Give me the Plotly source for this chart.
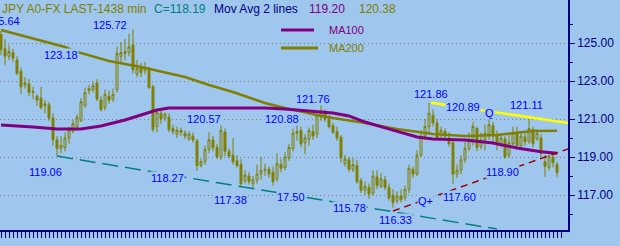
import plotly.graph_objects as go

# ---------------- data ----------------
open_ = [125.45, 124.7, 124.3, 124.5, 124.1, 123.5, 122.9, 122.85, 122.4, 122.2,
         122.1, 121.8, 121.75, 121.05, 119.9, 119.45, 119.5, 120.0, 120.35, 120.6,
         120.9, 121.7, 122.5, 122.55, 122.9, 122.0, 121.6, 122.2, 122.05, 122.55,
         124.3, 124.45, 124.5, 124.9, 123.35, 123.7, 123.55, 123.55, 122.7, 120.6,
         121.3, 121.05, 121.1, 120.5, 120.2, 120.4, 120.25, 119.95, 120.1, 119.85,
         118.55, 118.75, 119.4, 119.9, 119.5, 119.0, 120.3, 119.3, 119.1, 118.8,
         118.6, 117.75, 118.0, 117.6, 117.8, 118.1, 118.3, 118.35, 118.2, 117.85,
         118.6, 118.45, 118.95, 119.45, 120.25, 120.4, 119.75, 119.95, 120.35, 120.2,
         121.1, 121.3, 121.0, 120.65, 120.35, 120.05, 118.65, 118.85, 118.35, 118.55,
         117.75, 117.25, 117.4, 117.1, 117.95, 117.45, 117.8, 117.4, 117.0, 116.7,
         116.95, 116.85, 117.3, 118.35, 118.1, 119.1, 120.1, 120.6, 121.2, 120.8,
         120.15, 120.35, 120.0, 119.75, 118.1, 118.3, 118.85, 119.45, 119.85, 120.5,
         119.55, 119.9, 120.2, 120.65, 120.15, 119.7, 119.95, 119.1, 119.7, 120.3,
         119.6, 120.05, 119.8, 120.45, 119.95, 120.0, 118.75, 118.45, 119.0, 118.6]
high = [125.64, 125.2, 124.9, 124.7, 124.3, 123.7, 123.2, 123.1, 122.7, 122.3,
        122.7, 122.0, 121.9, 121.3, 120.1, 120.1, 120.3, 120.6, 120.95, 121.25,
        122.1, 122.65, 122.8, 123.0, 123.1, 122.2, 122.55, 122.5, 122.6, 124.8,
        125.05, 125.2, 125.5, 125.72, 124.1, 123.95, 124.0, 123.75, 122.8, 121.5,
        121.45, 121.35, 121.3, 120.7, 120.6, 120.55, 120.4, 120.35, 120.3, 119.95,
        118.9, 119.6, 120.3, 120.1, 119.7, 120.7, 120.5, 119.45, 120.0, 119.1,
        118.9, 118.3, 118.2, 118.0, 118.6, 119.0, 118.65, 118.5, 118.5, 119.2,
        118.9, 119.25, 119.7, 120.5, 120.95, 120.6, 120.2, 120.55, 120.7, 121.35,
        121.76, 121.5, 121.2, 120.8, 120.6, 120.15, 119.1, 119.0, 118.95, 118.85,
        117.9, 117.7, 117.6, 118.3, 118.3, 118.15, 118.0, 117.6, 117.3, 117.2,
        117.3, 117.5, 118.6, 118.5, 119.35, 120.4, 121.0, 121.86, 121.5, 121.0,
        120.6, 120.5, 120.3, 119.9, 118.6, 119.1, 119.8, 120.3, 120.85, 120.6,
        120.3, 120.7, 121.0, 120.85, 120.4, 120.2, 120.1, 120.2, 120.6, 120.6,
        120.35, 120.3, 121.0, 120.6, 120.45, 120.2, 119.1, 119.3, 119.2, 118.75]
low = [124.35, 123.85, 124.1, 124.0, 123.3, 122.3, 122.6, 122.2, 122.05, 121.7,
       121.5, 121.3, 120.9, 119.6, 119.06, 119.2, 119.3, 119.7, 120.25, 120.4,
       120.85, 121.6, 122.3, 122.4, 121.95, 121.4, 121.45, 121.8, 121.9, 122.4,
       124.0, 124.1, 124.3, 123.4, 123.2, 123.2, 123.35, 122.6, 120.3, 120.3,
       120.75, 120.9, 120.3, 120.2, 120.0, 120.1, 119.95, 119.85, 119.75, 118.27,
       118.45, 118.6, 119.2, 119.3, 118.9, 118.85, 119.05, 118.95, 118.6, 118.45,
       117.45, 117.6, 117.55, 117.38, 117.6, 117.8, 118.0, 117.9, 117.5, 117.7,
       118.2, 118.3, 118.8, 119.3, 119.85, 119.5, 119.15, 119.6, 119.9, 120.0,
       120.9, 120.85, 120.5, 120.2, 119.85, 118.7, 118.5, 118.2, 118.2, 117.6,
       117.1, 117.0, 116.8, 116.95, 117.3, 117.35, 117.25, 116.7, 116.33, 116.55,
       116.6, 116.7, 117.1, 117.9, 118.0, 119.0, 119.9, 120.3, 120.6, 119.9,
       119.95, 119.9, 119.55, 117.6, 117.9, 118.1, 118.7, 119.3, 119.6, 119.3,
       119.4, 119.35, 119.9, 119.75, 119.35, 119.5, 118.9, 118.95, 119.6, 119.4,
       119.5, 119.6, 119.7, 119.5, 119.85, 119.0, 117.95, 118.3, 118.45, 117.95]
close = [124.65, 124.3, 124.55, 124.2, 123.4, 122.7, 122.8, 122.4, 122.45, 122.0,
         121.6, 121.7, 121.05, 119.9, 119.45, 119.6, 120.0, 120.4, 120.75, 121.1,
         121.9, 122.4, 122.6, 122.75, 122.05, 121.5, 122.3, 122.0, 122.3, 124.45,
         124.5, 124.55, 124.8, 123.6, 123.65, 123.45, 123.7, 122.65, 120.45, 121.35,
         121.0, 121.25, 120.45, 120.35, 120.4, 120.3, 120.1, 120.2, 119.9, 118.55,
         118.75, 119.4, 119.9, 119.5, 119.0, 120.4, 119.3, 119.05, 118.75, 118.55,
         117.6, 118.05, 117.7, 117.8, 118.1, 118.3, 118.35, 118.1, 117.7, 118.65,
         118.4, 119.0, 119.5, 120.25, 120.35, 119.7, 120.0, 120.4, 120.1, 121.2,
         121.35, 121.0, 120.6, 120.3, 120.0, 118.95, 118.9, 118.35, 118.6, 117.7,
         117.25, 117.45, 117.05, 118.0, 117.5, 117.85, 117.4, 116.85, 116.6, 116.95,
         116.75, 117.3, 118.4, 118.1, 119.1, 120.1, 120.6, 121.3, 120.8, 120.0,
         120.4, 120.1, 119.7, 118.1, 118.3, 118.85, 119.45, 119.9, 120.6, 119.5,
         119.9, 120.25, 120.7, 120.1, 119.65, 120.0, 119.0, 119.75, 120.25, 119.6,
         120.1, 119.8, 120.5, 119.7, 120.25, 119.2, 118.5, 119.05, 118.7, 118.19]
bars = list(range(len(close)))

ma200_bar = [0, 16, 19, 27, 35, 41, 46, 52, 58, 66, 71, 79, 83, 91, 99, 108, 116, 124, 133, 139]
ma200 = [125.68, 124.79, 124.53, 124.05, 123.74, 123.47, 123.21, 122.79, 122.42, 121.84,
         121.58, 121.21, 121.05, 120.79, 120.47, 120.21, 120.11, 120.16, 120.37, 120.38]
ma100_bar = [0, 5, 8, 14, 20, 25, 28, 31, 35, 39, 42, 53, 66, 71, 77, 83, 87, 91, 96,
             102, 104, 108, 116, 123, 129, 135, 139]
ma100 = [120.68, 120.63, 120.58, 120.47, 120.47, 120.63, 120.79, 120.95, 121.21, 121.47,
         121.58, 121.58, 121.58, 121.53, 121.42, 121.32, 121.16, 120.84, 120.53, 120.16,
         120.05, 119.95, 119.89, 119.74, 119.47, 119.28, 119.20]

teal_bar, teal_price = [14, 124], [119.05, 115.21]
red_bar, red_price = [98, 141.75], [116.16, 119.42]
yellow_bar, yellow_price = [107.5, 141.75], [121.86, 120.79]

y_ticks = [117, 119, 121, 123, 125]

label_text = ["125.64", "125.72", "123.18", "119.06", "120.57", "120.88", "121.76",
              "118.27", "117.38", "17.50", "115.78", "116.33", "Q+", "117.60",
              "118.90", "121.86", "120.89", "Q", "121.11"]
label_bar = [5.0, 27.25, 15, 11, 50.75, 70.25, 78, 41.5, 57.25, 72.6, 87, 98.6, 106,
             114.5, 125.25, 107.4, 115.5, 122.1, 131.25]
label_price = [126.16, 125.95, 124.37, 118.21, 121.0, 121.0, 122.05, 117.87, 116.74,
               116.87, 116.32, 115.66, 116.68, 116.92, 118.21, 122.34, 121.61, 121.34, 121.76]

header_text = ["JPY A0-FX LAST-1438 min", "C=118.19", "Mov Avg 2 lines", "119.20", "120.38"]

# ---------------- styles ----------------
BG = "rgb(159,198,236)"
OLIVE = "#808000"
PURPLE = "#800080"
TEAL = "#008080"
NAVY = "#000080"
BLUE = "#0000ff"
DARKRED = "#990000"
YELLOW = "#ffff00"
FONT = "Liberation Sans, Arial, sans-serif"

W, H = 620, 246
ML, MR, MT, MB = 0, 52, 0, 16
PW, PH = W - ML - MR, H - MT - MB

def px(x):
    return x / PW

def py(y):
    return 1 - y / PH

fig = go.Figure()
fig.add_trace(go.Candlestick(
    x=bars, open=open_, high=high, low=low, close=close,
    increasing=dict(line=dict(color=OLIVE, width=1), fillcolor="rgba(0,0,0,0)"),
    decreasing=dict(line=dict(color=OLIVE, width=1), fillcolor=OLIVE),
    whiskerwidth=0, showlegend=False, hoverinfo="skip"))
fig.add_trace(go.Scatter(x=ma200_bar, y=ma200, mode="lines",
                         line=dict(color=OLIVE, width=2.5), hoverinfo="skip"))
fig.add_trace(go.Scatter(x=ma100_bar, y=ma100, mode="lines",
                         line=dict(color=PURPLE, width=3), hoverinfo="skip"))
fig.add_trace(go.Scatter(x=teal_bar, y=teal_price, mode="lines",
                         line=dict(color=TEAL, width=1.5, dash="16px,7px"), hoverinfo="skip"))
fig.add_trace(go.Scatter(x=red_bar, y=red_price, mode="lines",
                         line=dict(color=DARKRED, width=1.5, dash="7px,5px"), hoverinfo="skip"))
fig.add_trace(go.Scatter(x=yellow_bar, y=yellow_price, mode="lines",
                         line=dict(color=YELLOW, width=2.5), hoverinfo="skip"))

annotations = []
for i, (t, xb, yp) in enumerate(zip(label_text, label_bar, label_price)):
    annotations.append(dict(
        x=xb, y=yp, xref="x", yref="y", text=t, showarrow=False,
        xanchor="right" if i == 0 else "center", yanchor="middle",
        font=dict(family=FONT, size=11, color=BLUE),
        bgcolor=BG, borderpad=0))

header_x = [1, 153, 213, 308, 358]
header_col = [OLIVE, TEAL, NAVY, PURPLE, OLIVE]
for t, x, c in zip(header_text, header_x, header_col):
    annotations.append(dict(
        x=px(x), y=py(8.5), xref="paper", yref="paper", text=t, showarrow=False,
        xanchor="left", yanchor="middle", font=dict(family=FONT, size=12, color=c),
        borderpad=0))

# legend
for name, c, yy in [("MA100", PURPLE, 30), ("MA200", OLIVE, 47.5)]:
    annotations.append(dict(
        x=px(328), y=py(yy), xref="paper", yref="paper", text=name, showarrow=False,
        xanchor="left", yanchor="middle", font=dict(family=FONT, size=11, color=c),
        borderpad=0))
shapes = [
    dict(type="line", xref="paper", yref="paper", x0=px(281), x1=px(314), y0=py(30), y1=py(30),
         line=dict(color=PURPLE, width=3)),
    dict(type="line", xref="paper", yref="paper", x0=px(281), x1=px(318), y0=py(48), y1=py(48),
         line=dict(color=OLIVE, width=3)),
]

fig.update_layout(
    width=W, height=H,
    margin=dict(l=ML, r=MR, t=MT, b=MB, pad=0),
    paper_bgcolor=BG, plot_bgcolor=BG,
    showlegend=False,
    annotations=annotations, shapes=shapes,
    xaxis=dict(range=[-0.25, 141.75], showgrid=False, zeroline=False,
               showline=True, linecolor=NAVY, linewidth=1.5,
               ticks="outside", tickmode="array", tickvals=list(range(len(close) + 1)),
               ticklen=6, tickwidth=1, tickcolor=NAVY, showticklabels=False,
               rangeslider=dict(visible=False), automargin=False, fixedrange=True),
    yaxis=dict(side="right", range=[115.158, 127.263], tickmode="array", tickvals=y_ticks,
               tickformat=".2f", ticks="outside", ticklen=5, tickwidth=1, tickcolor=NAVY,
               tickfont=dict(family=FONT, size=12, color=NAVY),
               showline=True, linecolor=NAVY, linewidth=1.5,
               showgrid=True, gridcolor="#7f7f7f", gridwidth=1, griddash="1px,3px",
               zeroline=False, automargin=False, fixedrange=True,
               minor=dict(tickmode="linear", tick0=116, dtick=2, ticks="outside", ticklen=3,
                          tickwidth=1, tickcolor=NAVY, showgrid=False)),
)

fig.write_html("out.html")
